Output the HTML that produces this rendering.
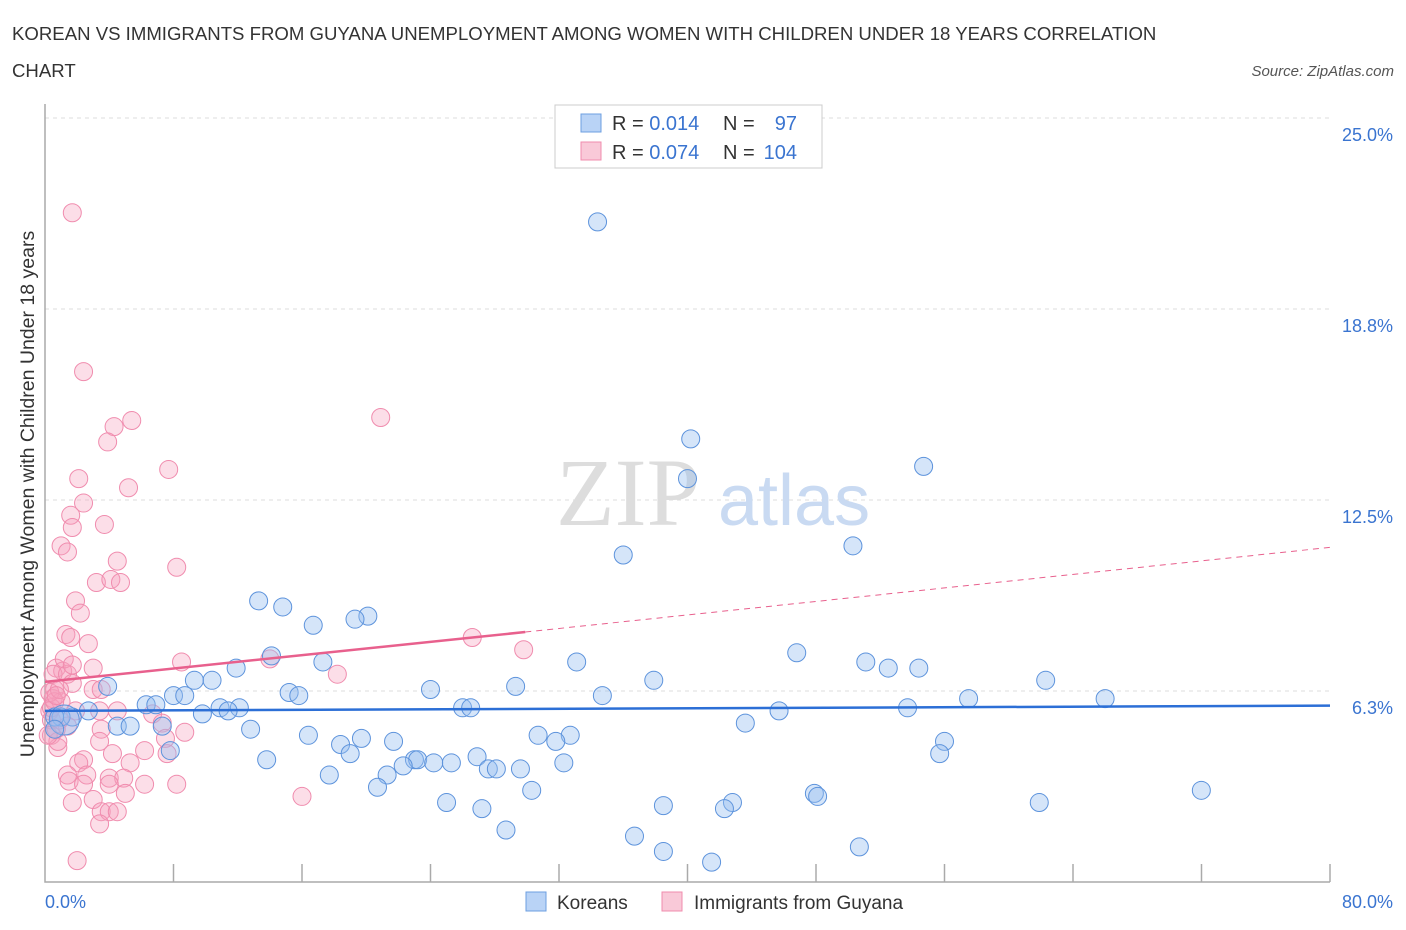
<!DOCTYPE html>
<html><head><meta charset="utf-8"><style>
body{margin:0;background:#fff;font-family:"Liberation Sans",sans-serif;}
svg{display:block}
</style></head><body>
<svg width="1406" height="930">
<text x="12" y="40" font-size="18.6" fill="#333">KOREAN VS IMMIGRANTS FROM GUYANA UNEMPLOYMENT AMONG WOMEN WITH CHILDREN UNDER 18 YEARS CORRELATION</text>
<text x="12" y="77" font-size="18.6" fill="#333">CHART</text>
<text x="1394" y="76" font-size="15" fill="#555" font-style="italic" text-anchor="end">Source: ZipAtlas.com</text>
<g id="grid"></g>
<text x="700" y="525" font-size="96" fill="#ddd" font-family="Liberation Serif,serif" text-anchor="end">ZIP</text>
<text x="718" y="525" font-size="72" fill="#c9daf2" text-anchor="start">atlas</text>
<g id="pts"></g>
<g id="lines"></g>
<text x="34" y="494" font-size="19.5" fill="#333" text-anchor="middle" transform="rotate(-90 34 494)">Unemployment Among Women with Children Under 18 years</text>
<text x="45" y="908" font-size="18" fill="#3a74d0">0.0%</text>
<text x="1393" y="908" font-size="18" fill="#3a74d0" text-anchor="end">80.0%</text>
<g>
<rect x="555" y="105" width="267" height="63" fill="#fff" stroke="#ccc"/>
<rect x="581" y="114" width="20" height="18" fill="#b9d3f6" stroke="#6d9fe0"/>
<rect x="581" y="142" width="20" height="18" fill="#f9c9d8" stroke="#f08cae"/>
<text x="612" y="130" font-size="20" fill="#333">R = <tspan fill="#3a74d0">0.014</tspan></text>
<text x="723" y="130" font-size="20" fill="#333">N = </text><text x="797" y="130" font-size="20" fill="#3a74d0" text-anchor="end">97</text>
<text x="612" y="159" font-size="20" fill="#333">R = <tspan fill="#3a74d0">0.074</tspan></text>
<text x="723" y="159" font-size="20" fill="#333">N = </text><text x="797" y="159" font-size="20" fill="#3a74d0" text-anchor="end">104</text>
</g>
<g>
<rect x="526" y="892" width="20" height="19" fill="#b9d3f6" stroke="#6d9fe0"/>
<text x="557" y="909" font-size="19" fill="#333">Koreans</text>
<rect x="662" y="892" width="20" height="19" fill="#f9c9d8" stroke="#f08cae"/>
<text x="694" y="909" font-size="19" fill="#333">Immigrants from Guyana</text>
</g>
</svg>
<script>
const koreansX=[34.4,40.2,40,54.7,50.3,36,13.3,14.8,20.1,19.3,16.7,46.8,33.1,51.1,52.5,54.4,11.9,14.1,17.3,10.4,9.3,8,8.7,3.9,37.9,62.3,29.3,24,15.2,15.8,34.7,57.5,66,53.7,45.7,26,26.5,12.1,10.9,11.4,9.8,6.3,6.9,2.7,1.7,1,0.6,4.5,5.3,7.3,43.6,12.8,16.4,30.7,32.7,19.7,18.4,31.8,21.7,56,19,55.7,13.8,23,23.2,24.2,25.3,26.9,22.3,27.6,28.1,29.6,32.3,17.7,21.3,20.7,30.3,71.99,47.9,48.1,42.8,25,27.2,38.5,42.3,61.9,28.7,36.7,38.5,50.7,41.5,7.8,1.2,0.6];
const koreansY=[21.6,14.5,13.2,13.6,11.0,10.7,9.2,9.0,8.7,8.6,8.4,7.5,7.2,7.2,7.0,7.0,7.0,7.4,7.2,6.6,6.6,6.1,6.1,6.4,6.6,6.6,6.4,6.3,6.2,6.1,6.1,6.0,6.0,5.7,5.6,5.7,5.7,5.7,5.7,5.6,5.5,5.8,5.8,5.6,5.4,5.4,5.4,5.1,5.1,5.1,5.2,5.0,4.8,4.8,4.8,4.7,4.5,4.6,4.6,4.6,4.2,4.2,4.0,4.0,4.0,3.9,3.9,4.1,3.8,3.7,3.7,3.7,3.9,3.5,3.5,3.1,3.0,3.0,2.9,2.8,2.6,2.6,2.4,2.5,2.4,2.6,1.7,1.5,1.0,1.15,0.65,4.3,5.3,5.0];
const guyanaX=[1.7,2.4,20.9,5.4,4.3,3.9,7.7,2.1,5.2,2.4,1.6,1.7,3.7,1,1.4,4.5,8.2,3.2,4.1,4.7,1.9,2.2,1.3,1.6,2.7,26.6,29.8,8.5,14,3,0.7,1.1,0.5,1.4,1.7,3,3.5,18.2,0.6,0.5,1,1.9,3.4,4.5,6.7,0.3,0.4,0.9,1.4,0.7,0.4,3.5,7.3,8.7,7.5,7.6,0.8,4.2,6.2,5.3,3.4,2.4,2.1,1.4,1.5,2.6,4,4.9,4,6.2,8.2,2.4,5,3,1.7,16,3.5,4,4.5,3.4,2,0.4,0.3,0.6,0.8,1.2,1.7,0.9,0.2,0.7];
const guyanaY=[21.9,16.7,15.2,15.1,14.9,14.4,13.5,13.2,12.9,12.4,12.0,11.6,11.7,11.0,10.8,10.5,10.3,9.8,9.9,9.8,9.2,8.8,8.1,8.0,7.8,8.0,7.6,7.2,7.3,7.0,7.0,6.9,6.8,6.8,6.5,6.3,6.3,6.8,6.3,6.0,5.9,5.6,5.6,5.6,5.5,5.6,5.3,5.3,5.1,5.0,4.8,5.0,5.2,4.9,4.7,4.2,4.4,4.2,4.3,3.9,4.6,4.0,3.9,3.5,3.3,3.5,3.4,3.4,3.2,3.2,3.2,3.2,2.9,2.7,2.6,2.8,2.3,2.3,2.3,1.9,0.7,5.7,6.2,5.9,4.6,7.3,7.1,6.3,4.8,6.1];
const xTicks=[0,8,16,24,32,40,48,56,64,72,80];
const yTicks=[6.25,12.5,18.75,25];
const yTickLabels=["6.3%","12.5%","18.8%","25.0%"];
const NS="http://www.w3.org/2000/svg";
const X=v=>45+v*(1285/80), Y=v=>882-v*(764/25);
function mk(t,a,p){const e=document.createElementNS(NS,t);for(const k in a)e.setAttribute(k,a[k]);p.appendChild(e);return e;}
const grid=document.getElementById('grid');
yTicks.forEach((t,i)=>{
 const l=mk('line',{x1:45,x2:1330,y1:Y(t),y2:Y(t),stroke:'#ddd','stroke-dasharray':'4,4'},grid);
 
 
 const tx=mk('text',{x:1393,y:Y(t)+23,'font-size':18,fill:'#3a74d0','text-anchor':'end'},grid);
 tx.textContent=yTickLabels[i];
 
 
});
const ax=mk('path',{d:'M45,104V882H1330',fill:'none',stroke:'#aaa','stroke-width':1.5},grid);


xTicks.slice(1).forEach(t=>{
 const l=mk('line',{x1:X(t),x2:X(t),y1:864,y2:882,stroke:'#aaa','stroke-width':1.5},grid);
 
 
});
const pts=document.getElementById('pts');
guyanaX.forEach((x,i)=>{
 const c=mk('circle',{cx:X(x),cy:Y(guyanaY[i]),r:9,fill:'rgba(245,160,190,0.35)',stroke:'#f08cae','stroke-width':1},pts);
 
 
});
koreansX.forEach((x,i)=>{
 const c=mk('circle',{cx:X(x),cy:Y(koreansY[i]),r:i==koreansX.length-2?15:9,fill:'rgba(150,190,240,0.4)',stroke:'#5d93dc','stroke-width':1},pts);
 
 
});
const lines=document.getElementById('lines');
let l=mk('line',{x1:X(0),y1:Y(5.6),x2:X(80),y2:Y(5.77),stroke:'#2c6fd6','stroke-width':2.5},lines);


l=mk('line',{x1:X(0),y1:Y(6.55),x2:X(29.9),y2:Y(8.18),stroke:'#e8608d','stroke-width':2.5},lines);


l=mk('line',{x1:X(29.9),y1:Y(8.18),x2:X(80),y2:Y(10.95),stroke:'#e8608d','stroke-width':1,'stroke-dasharray':'6,5'},lines);


</script>
</body></html>
